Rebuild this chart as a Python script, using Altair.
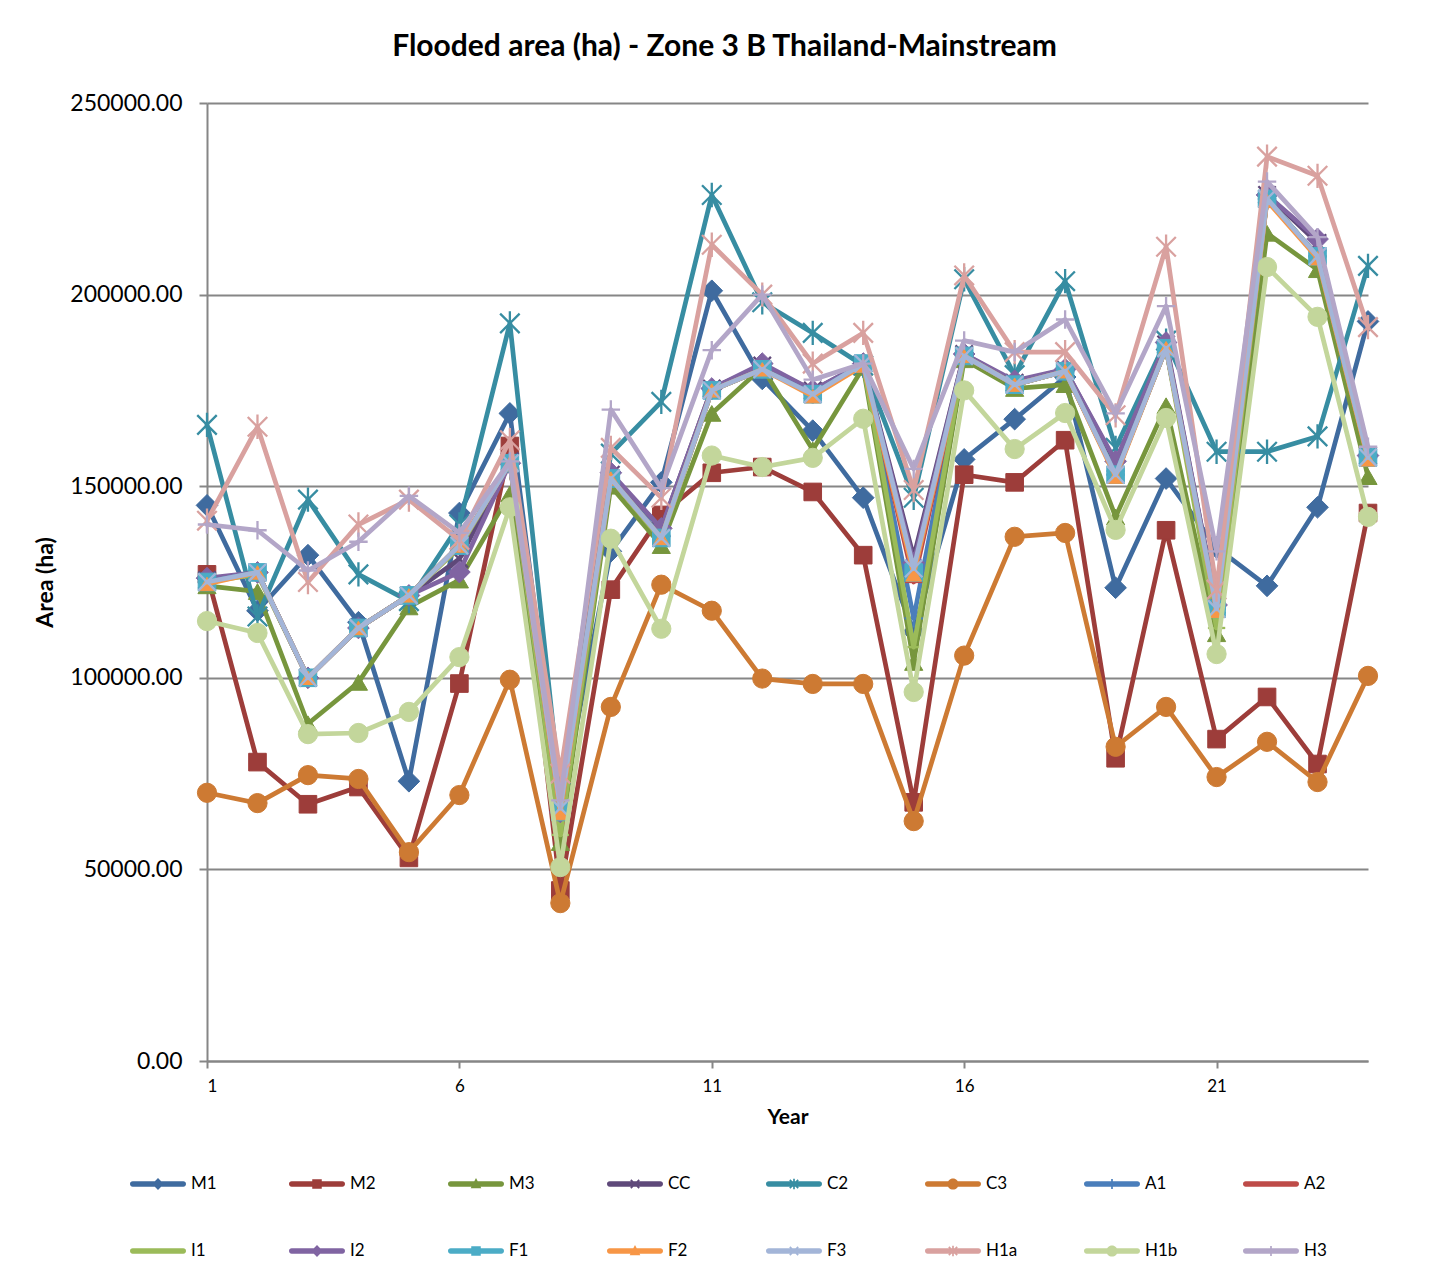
import math
import altair as alt
import pandas as pd

# ---------------------------------------------------------------- data
YEARS = list(range(1, 25))

M1 = [145000, 117500, 132000, 114500, 73000, 143000, 169000, 66000, 133000, 151000, 201000, 178000,
      164500, 147000, 112000, 157000, 167500, 178500, 123500, 152000, 134000, 124000, 144500, 193000]
M2 = [127000, 78000, 67000, 71500, 53000, 98500, 160500, 44500, 123000, 142500, 153500, 155000,
      148500, 132000, 67500, 153000, 151000, 162000, 79000, 138500, 84000, 95000, 77500, 143000]
M3 = [124000, 122500, 88000, 98800, 118500, 125500, 148000, 57000, 150000, 134500, 169000, 181000,
      159500, 181000, 104000, 183000, 175500, 176500, 142000, 171000, 111500, 216000, 206500, 152500]
CC = [125500, 127500, 100000, 113000, 121500, 131000, 156500, 65500, 153000, 139000, 175500, 181500,
      175000, 182000, 131500, 184500, 177000, 180500, 156000, 187000, 119000, 226000, 213500, 158000]
C2 = [166000, 116000, 146500, 127000, 120000, 140000, 192500, 70000, 158500, 172000, 226000, 198000,
      190000, 181500, 147000, 204000, 179000, 203500, 160000, 188000, 159000, 159000, 163000, 207500]
C3 = [70000, 67300, 74600, 73600, 54500, 69400, 99500, 41200, 92400, 124300, 117500, 99800,
      98400, 98400, 62600, 105800, 136800, 137800, 82000, 92400, 74100, 83300, 72800, 100500]
A1 = [125000, 127500, 100000, 113000, 121500, 134500, 156000, 63000, 152000, 137000, 175000, 180500,
      174000, 182000, 115500, 184000, 176500, 180000, 153000, 186000, 118000, 225000, 210000, 157500]
A2 = [125000, 127500, 100000, 113000, 121500, 134500, 156000, 62000, 152000, 136500, 175000, 180500,
      174000, 182000, 125000, 184000, 176500, 180000, 153000, 186000, 118000, 225000, 210000, 157500]
I1 = [125000, 127000, 100000, 113000, 121500, 134000, 156000, 59000, 152000, 136000, 175000, 180500,
      174000, 182000, 108000, 184000, 176500, 180000, 153000, 186000, 113000, 225000, 210000, 157500]
I2 = [126000, 127500, 100000, 113000, 121500, 127600, 156000, 65000, 153500, 139000, 175500, 182000,
      175000, 182000, 130000, 184500, 177500, 180500, 156500, 187500, 119000, 226000, 214500, 158000]
F1 = [125000, 127500, 100000, 113000, 121500, 134500, 156000, 65000, 152000, 136500, 175000, 180500,
      174000, 182000, 127500, 184000, 176500, 180000, 153000, 186000, 118000, 225000, 210000, 157500]
F2 = [124500, 127500, 100000, 113000, 121500, 134500, 156000, 64700, 152000, 136500, 175000, 180500,
      173500, 181500, 127000, 184000, 176500, 180000, 152500, 186000, 117500, 224500, 209500, 157000]
F3 = [125000, 127500, 100000, 113000, 121500, 134500, 156000, 66000, 152000, 136500, 175000, 180500,
      174000, 182000, 128500, 184000, 176500, 180000, 153000, 186000, 118000, 225000, 210000, 157500]
H1a = [141000, 165500, 125000, 140000, 146500, 136000, 162000, 75000, 160000, 147000, 213000, 200000,
       182000, 190000, 149000, 205000, 185000, 185000, 168500, 212500, 123000, 236000, 231000, 191500]
H1b = [114800, 111700, 85300, 85600, 91100, 105400, 144500, 50600, 136300, 112800, 158000, 155000,
       157400, 167600, 96300, 175000, 159700, 169100, 138600, 167800, 106200, 207200, 194200, 142000]
H3 = [140000, 138500, 128000, 135500, 147500, 137800, 156500, 68000, 170000, 149500, 185500, 200000,
      177800, 182000, 154500, 188000, 185000, 193500, 169000, 197000, 133000, 229500, 215000, 160300]

SERIES = ["M1", "M2", "M3", "CC", "C2", "C3", "A1", "A2",
          "I1", "I2", "F1", "F2", "F3", "H1a", "H1b", "H3"]
VALUES = [M1, M2, M3, CC, C2, C3, A1, A2, I1, I2, F1, F2, F3, H1a, H1b, H3]
COLORS = ["#3F6B9F", "#9D3D3A", "#77963D", "#5F497A", "#378DA2", "#CD7A33", "#4A7EBB", "#BE4B48",
          "#9BBB59", "#8064A2", "#4BACC6", "#F79646", "#A3B5D8", "#D9A19F", "#C3D69B", "#B3A6C8"]
MARKERS = ["diamond", "square", "triangle", "x", "star", "circle", "plus", "dash",
           "dash", "diamond", "square", "triangle", "x", "star", "circle", "plus"]

TITLE = "Flooded area (ha) - Zone 3 B Thailand-Mainstream"
X_TICKS = [1, 6, 11, 16, 21]
Y_TICKS = [0, 50000, 100000, 150000, 200000, 250000]

FONT = "Lato"
GREY = "#868686"

df = pd.DataFrame(
    [{"series": s, "year": y, "area": v}
     for s, vals in zip(SERIES, VALUES) for y, v in zip(YEARS, vals)]
)

# ---------------------------------------------------------------- marker shapes
# stroked outline markers for the plot (unit square, scaled by the symbol size)
PLOT_PATHS = {
    "x": "M-1,-1L1,1M-1,1L1,-1",
    "star": "M-1,-1L1,1M-1,1L1,-1M0,-1.25L0,1.25",
    "plus": "M-1,0L1,0M0,-1L0,1",
    "dash": "M-1,0L1,0",
}
PLOT_STYLE = {  # shape, filled, size
    "diamond": ("diamond", True, 470),
    "square": ("square", True, 310),
    "triangle": ("triangle-up", True, 330),
    "circle": ("circle", True, 370),
    "x": (PLOT_PATHS["x"], False, 300),
    "star": (PLOT_PATHS["star"], False, 380),
    "plus": (PLOT_PATHS["plus"], False, 340),
    "dash": (PLOT_PATHS["dash"], False, 300),
}


def _fmt(v):
    return f"{v:.4f}".rstrip("0").rstrip(".")


def _poly(points):
    # keep every sub-path with the same winding so overlaps stay filled
    area = sum(points[i][0] * points[(i + 1) % len(points)][1]
               - points[(i + 1) % len(points)][0] * points[i][1] for i in range(len(points)))
    if area < 0:
        points = points[::-1]
    return "M" + "L".join(f"{_fmt(x)},{_fmt(y)}" for x, y in points) + "Z"


def _rect(x0, y0, x1, y1):
    return _poly([(x0, y0), (x1, y0), (x1, y1), (x0, y1)])


def _bar(x0, y0, x1, y1, t):
    dx, dy = x1 - x0, y1 - y0
    n = math.hypot(dx, dy)
    nx, ny = -dy / n * t, dx / n * t
    return _poly([(x0 + nx, y0 + ny), (x1 + nx, y1 + ny), (x1 - nx, y1 - ny), (x0 - nx, y0 - ny)])


def _circle(r):
    return f"M{_fmt(-r)},0A{_fmt(r)},{_fmt(r)} 0 1,1 {_fmt(r)},0A{_fmt(r)},{_fmt(r)} 0 1,1 {_fmt(-r)},0Z"


def legend_path(marker):
    # a short rounded line with the series marker in its middle, all filled
    h, e = 0.095, 1.0
    line = (f"M{_fmt(-e + h)},{_fmt(-h)}L{_fmt(e - h)},{_fmt(-h)}"
            f"A{_fmt(h)},{_fmt(h)} 0 0,1 {_fmt(e - h)},{_fmt(h)}"
            f"L{_fmt(-e + h)},{_fmt(h)}A{_fmt(h)},{_fmt(h)} 0 0,1 {_fmt(-e + h)},{_fmt(-h)}Z")
    t = 0.03
    if marker == "diamond":
        m = _poly([(0, -0.21), (0.21, 0), (0, 0.21), (-0.21, 0)])
    elif marker == "square":
        m = _rect(-0.17, -0.17, 0.17, 0.17)
    elif marker == "triangle":
        m = _poly([(0, -0.21), (0.19, 0.15), (-0.19, 0.15)])
    elif marker == "circle":
        m = _circle(0.2)
    elif marker == "x":
        m = _bar(-0.15, -0.15, 0.15, 0.15, t) + _bar(-0.15, 0.15, 0.15, -0.15, t)
    elif marker == "star":
        m = (_bar(-0.15, -0.15, 0.15, 0.15, t) + _bar(-0.15, 0.15, 0.15, -0.15, t)
             + _rect(-t, -0.19, t, 0.19))
    elif marker == "plus":
        m = _rect(-t, -0.18, t, 0.18)
    else:
        m = ""
    return line + m


LEGEND_PATHS = [legend_path(m) for m in MARKERS]

# ---------------------------------------------------------------- encodings
x_enc = alt.X(
    "year:Q",
    scale=alt.Scale(domain=[1, 24], nice=False, zero=False),
    axis=alt.Axis(values=X_TICKS, format="d", grid=False, tickSize=7, labelPadding=10,
                  labelFontSize=17, title="Year", titleFontSize=21, titleFontWeight="bold",
                  titleX=580.5, titleY=56, titleAlign="center", titleBaseline="middle"),
)
y_enc = alt.Y(
    "area:Q",
    scale=alt.Scale(domain=[0, 250000], nice=False),
    axis=alt.Axis(values=Y_TICKS, format=".2f", grid=True, tickSize=8, labelPadding=17,
                  labelFontSize=23, title="Area (ha)", titleFontSize=23, titleFontWeight="bold",
                  titleAngle=270, titleX=-162, titleY=479, titleAlign="center",
                  titleBaseline="middle"),
)

layers = []
for name, color, marker in zip(SERIES, COLORS, MARKERS):
    base = alt.Chart(df).transform_filter(alt.datum.series == name)
    layers.append(
        base.mark_line(color=color, strokeWidth=4.7, strokeJoin="round", strokeCap="round")
        .encode(x=x_enc, y=y_enc)
    )
    shape, filled, size = PLOT_STYLE[marker]
    if name == "F2":
        size = 240
    if filled:
        pt = base.mark_point(shape=shape, filled=True, size=size, color=color, opacity=1,
                             stroke=color, strokeWidth=1)
    else:
        pt = base.mark_point(shape=shape, filled=False, size=size, color=color, opacity=1,
                             strokeWidth=2.3)
    layers.append(pt.encode(x=x_enc, y=y_enc))

legend = alt.Legend(
    orient="none", legendX=-77, legendY=1053, direction="horizontal", columns=8, title=None,
    symbolSize=3136, symbolStrokeWidth=0, symbolOpacity=1, labelFont=FONT, labelFontSize=17,
    labelColor="black", labelOffset=5, columnPadding=65, rowPadding=31, gridAlign="all",
    padding=0, labelLimit=200,
)
legend_layer = (
    alt.Chart(pd.DataFrame({"series": SERIES}))
    .transform_filter("datum.series == 'none'")
    .mark_point(filled=True, opacity=1)
    .encode(
        color=alt.Color("series:N", scale=alt.Scale(domain=SERIES, range=COLORS), legend=legend),
        shape=alt.Shape("series:N", scale=alt.Scale(domain=SERIES, range=LEGEND_PATHS),
                        legend=legend),
    )
)

chart = (
    alt.layer(*layers, legend_layer)
    .properties(
        width=1161, height=958,
        title=alt.TitleParams(TITLE, font=FONT, fontSize=30, fontWeight="bold", color="black",
                              anchor="middle", dx=-63, offset=30),
        padding={"left": 207, "top": 103, "right": 83, "bottom": 216},
        autosize=alt.AutoSizeParams(type="none"),
    )
    .configure(font=FONT, background="white")
    .configure_view(stroke=None)
    .configure_axis(domainColor=GREY, domainWidth=2, tickColor=GREY, tickWidth=2,
                    gridColor=GREY, gridWidth=2, labelColor="black", titleColor="black",
                    labelFont=FONT, titleFont=FONT)
)

chart.save("out.html", embed_options={"renderer": "svg", "actions": False})
